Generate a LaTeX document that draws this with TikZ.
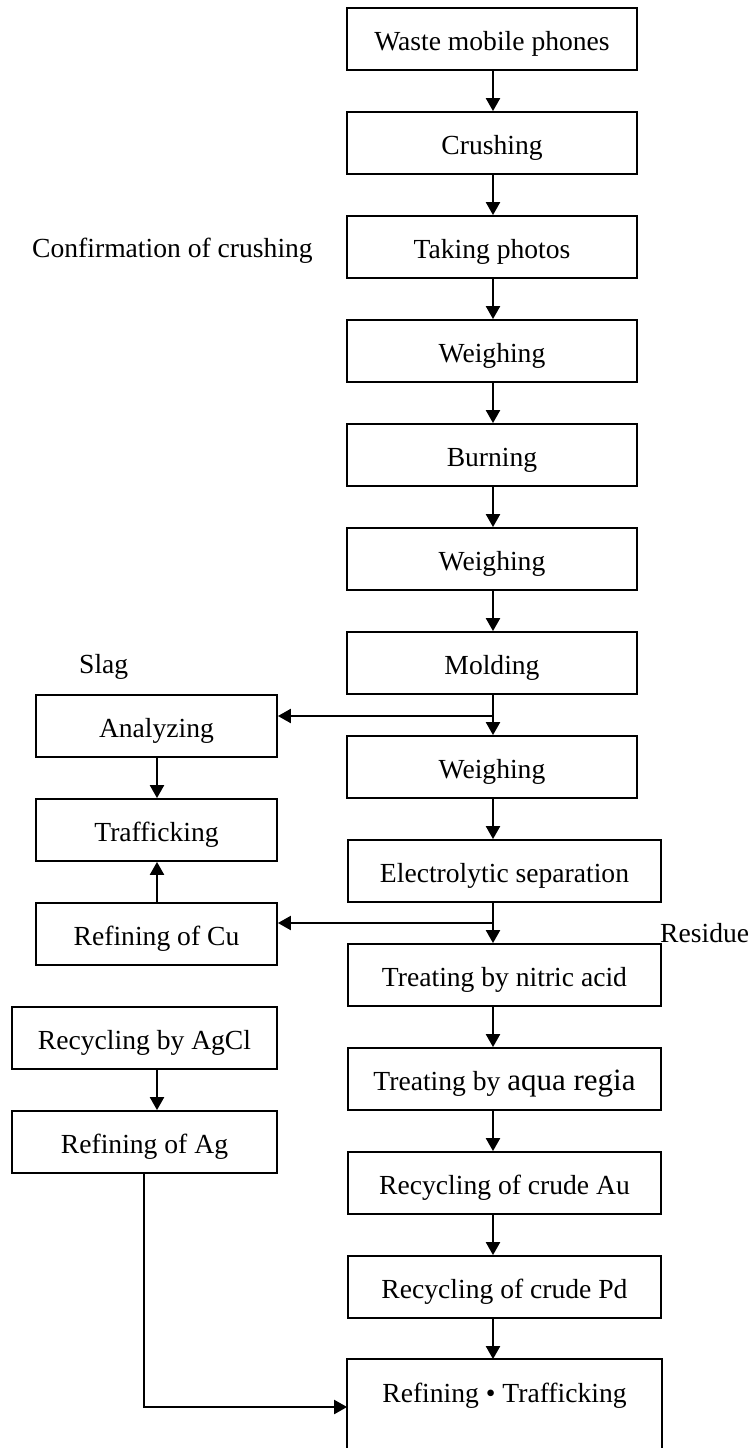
\documentclass[tikz,border=0pt]{standalone}
\usepackage{fontspec}
\setmainfont{Liberation Serif}
\usetikzlibrary{arrows.meta,calc}
\begin{document}
\begin{tikzpicture}[x=1pt,y=-1pt,
  txt/.style={font=\fontsize{27.6}{33}\selectfont},
  box/.style={txt, draw, line width=1.8pt, rectangle, inner sep=0pt,
    minimum height=62pt, text height=25pt, text depth=2pt},
  mainbox/.style={box, minimum width=290pt},
  widebox/.style={box, minimum width=313pt},
  leftbox/.style={box, minimum width=241pt},
  leftwide/.style={box, minimum width=265pt},
  lbl/.style={txt, inner sep=0pt},
  arr/.style={line width=2.2pt, -{Triangle[length=13pt,width=14pt]}},
  boxline/.style={line width=1.8pt}]
\useasboundingbox (0,0) rectangle (750,1448);
% main column
\node[mainbox] (waste)  at (492,39)  {Waste mobile phones};
\node[mainbox] (crush)  at (492,143) {Crushing};
\node[mainbox] (photo)  at (492,247) {Taking photos};
\node[mainbox] (weigh1) at (492,351) {Weighing};
\node[mainbox] (burn)   at (492,455) {Burning};
\node[mainbox] (weigh2) at (492,559) {Weighing};
\node[mainbox] (mold)   at (492,663) {Molding};
\node[mainbox] (weigh3) at (492,767) {Weighing};
\node[widebox] (elec)   at (504.5,871)  {Electrolytic separation};
\node[widebox] (nitric) at (504.5,975)  {Treating by nitric acid};
\node[widebox] (aqua)   at (504.5,1079) {Treating by {\fontsize{31}{33}\selectfont aqua regia}};
\node[widebox] (au)     at (504.5,1183) {Recycling of crude Au};
\node[widebox] (pd)     at (504.5,1287) {Recycling of crude Pd};
\node[widebox, draw=none] (rt) at (504.5,1391) {Refining • Trafficking};
\draw[boxline] (rt.north west) rectangle ($(rt.north east)+(0,110)$);
% left column
\node[leftbox] (anal) at (156.5,726)  {Analyzing};
\node[leftbox] (traf) at (156.5,830)  {Trafficking};
\node[leftbox] (cu)   at (156.5,934)  {Refining of Cu};
\node[leftwide] (agcl) at (144.5,1038) {Recycling by AgCl};
\node[leftwide] (ag)   at (144.5,1142) {Refining of Ag};
% labels
\node[lbl, anchor=base west] (conf) at (32,257) {Confirmation of crushing};
\node[lbl, anchor=base west] (slag) at (79,673) {Slag};
\node[lbl, anchor=base west] (res)  at (660,942) {Residue};
% connectors
\coordinate (xm) at (493,0);
\coordinate (xl) at (157,0);
\draw[arr] (waste.south -| xm) -- (crush.north -| xm);
\draw[arr] (crush.south -| xm) -- (photo.north -| xm);
\draw[arr] (photo.south -| xm) -- (weigh1.north -| xm);
\draw[arr] (weigh1.south -| xm) -- (burn.north -| xm);
\draw[arr] (burn.south -| xm) -- (weigh2.north -| xm);
\draw[arr] (weigh2.south -| xm) -- (mold.north -| xm);
\draw[arr] (mold.south -| xm) -- (weigh3.north -| xm);
\draw[arr] (weigh3.south -| xm) -- (elec.north -| xm);
\draw[arr] (elec.south -| xm) -- (nitric.north -| xm);
\draw[arr] (nitric.south -| xm) -- (aqua.north -| xm);
\draw[arr] (aqua.south -| xm) -- (au.north -| xm);
\draw[arr] (au.south -| xm) -- (pd.north -| xm);
\draw[arr] (pd.south -| xm) -- (rt.north -| xm);
\coordinate (j1) at (493,716);
\draw[arr] (j1) -- (j1 -| anal.east);
\coordinate (j2) at (493,923);
\draw[arr] (j2) -- (j2 -| cu.east);
\draw[arr] (anal.south -| xl) -- (traf.north -| xl);
\draw[arr] (cu.north -| xl) -- (traf.south -| xl);
\draw[arr] (agcl.south -| xl) -- (ag.north -| xl);
\coordinate (j3) at (144,1407);
\draw[arr] (ag.south -| j3) -- (j3) -- (j3 -| rt.west);
\end{tikzpicture}
\end{document}
